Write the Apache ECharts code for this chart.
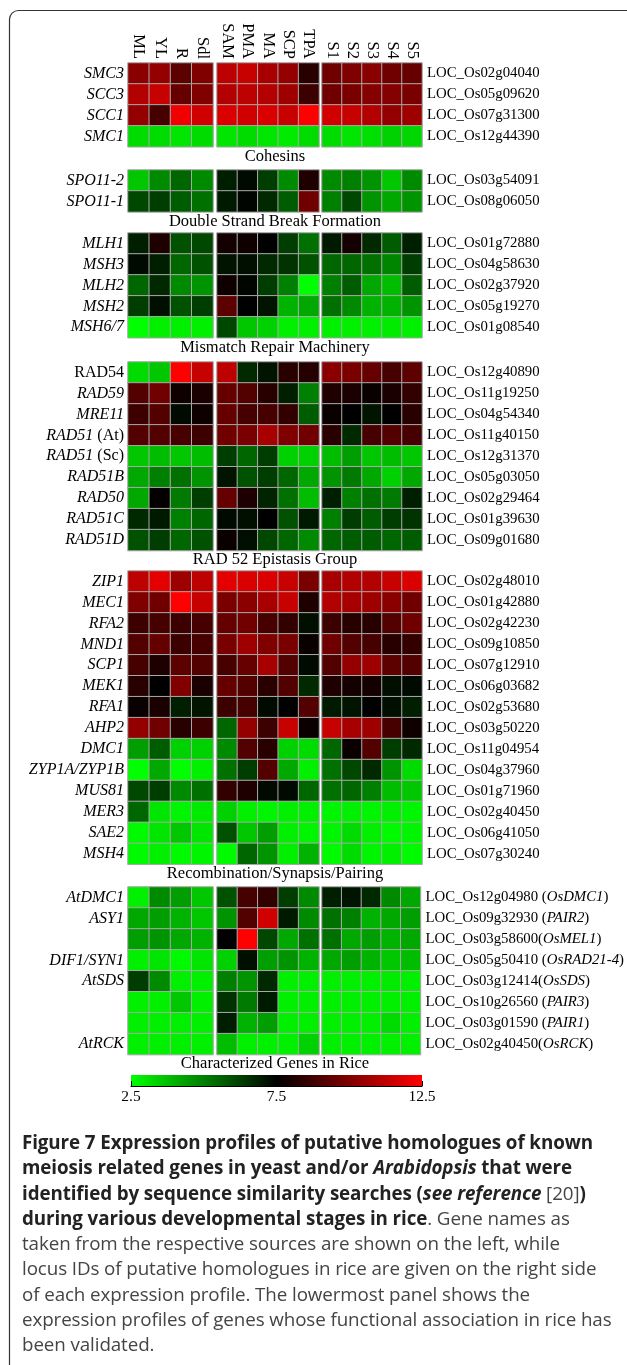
<!DOCTYPE html>
<html>
<head>
<meta charset="utf-8">
<script src="https://cdn.jsdelivr.net/npm/echarts@6/dist/echarts.min.js"></script>
<style>
body{margin:0;background:#fff;}
#chart{width:627px;height:1365px;position:absolute;left:0;top:0;}
#cap{position:absolute;left:22px;top:1130px;width:600px;font-family:"Open Sans",sans-serif;font-size:18.8px;line-height:25.3px;color:#444;letter-spacing:-0.1px;white-space:nowrap;}
#cap b{color:#222;}
</style>
</head>
<body>
<div id="chart"></div>
<div id="cap"><b>Figure 7 Expression profiles of putative homologues of known<br>meiosis related genes in yeast and/or <i>Arabidopsis</i> that were<br>identified by sequence similarity searches (<i>see reference</i></b> [20]<b>)</b><br><b>during various developmental stages in rice</b>. Gene names as<br>taken from the respective sources are shown on the left, while<br>locus IDs of putative homologues in rice are given on the right side<br>of each expression profile. The lowermost panel shows the<br>expression profiles of genes whose functional association in rice has<br>been validated.</div>
<script>
var stages1 = ['ML','YL','R','Sdl'];
var stages2 = ['SAM','PMA','MA','SCP','TPA'];
var stages3 = ['S1','S2','S3','S4','S5'];
var colorTicks = [2.5, 7.5, 12.5];

// Cohesins
var cohGenes = ['SMC3','SCC3','SCC1','SMC1'];
var cohLoci = ['LOC_Os02g04040','LOC_Os05g09620','LOC_Os07g31300','LOC_Os12g44390'];
var cohValues = [
  [10.2,10.4,9.3,10.0, 11.2,11.4,10.8,10.4,8.3, 9.7,10.0,10.2,9.7,9.5],
  [11.0,11.4,9.5,10.0, 11.0,11.2,11.0,10.6,8.7, 9.7,9.9,10.1,10.1,9.9],
  [10.4,8.9,12.2,11.6, 11.8,11.6,11.8,11.4,12.5, 11.6,11.4,11.0,10.4,10.6],
  [3.2,3.2,3.0,3.2, 3.0,3.2,3.0,2.9,3.2, 3.2,3.0,3.1,3.4,3.3]
];
// Double strand break formation
var dsbGenes = ['SPO11-2','SPO11-1'];
var dsbLoci = ['LOC_Os03g54091','LOC_Os08g06050'];
var dsbValues = [
  [3.6,4.8,5.5,4.8, 6.9,7.3,6.3,4.8,8.1, 4.8,5.0,4.6,3.6,4.8],
  [6.1,6.3,5.7,5.3, 7.0,7.4,6.7,5.7,9.7, 5.0,6.1,4.6,4.2,4.6]
];
// Mismatch repair
var mmrGenes = ['MLH1','MSH3','MLH2','MSH2','MSH6/7'];
var mmrLoci = ['LOC_Os01g72880','LOC_Os04g58630','LOC_Os02g37920','LOC_Os05g19270','LOC_Os01g08540'];
var mmrValues = [
  [6.9,8.1,5.9,6.1, 7.9,7.8,7.5,6.3,5.3, 7.0,7.9,6.7,5.7,6.9],
  [7.3,6.9,5.5,5.9, 7.1,7.2,6.7,6.5,5.9, 5.5,5.5,5.3,4.9,6.3],
  [5.5,6.7,4.8,4.6, 7.8,7.4,6.3,5.0,2.5, 5.0,5.7,4.2,3.8,5.7],
  [6.3,7.2,5.9,6.3, 9.3,7.5,7.1,4.0,4.2, 5.3,4.8,4.0,4.0,4.6],
  [2.5,2.8,2.8,2.8, 6.1,3.6,3.4,2.8,2.8, 2.8,2.8,2.8,2.9,2.8]
];
// RAD 52 epistasis group
var radGenes = ['RAD54','RAD59','MRE11','RAD51 (At)','RAD51 (Sc)','RAD51B','RAD50','RAD51C','RAD51D'];
var radLoci = ['LOC_Os12g40890','LOC_Os11g19250','LOC_Os04g54340','LOC_Os11g40150','LOC_Os12g31370','LOC_Os05g03050','LOC_Os02g29464','LOC_Os01g39630','LOC_Os09g01680'];
var radValues = [
  [3.2,3.6,12.5,11.4, 11.2,6.7,7.1,8.3,8.2, 10.2,9.9,9.5,8.9,9.3],
  [9.1,9.7,7.8,8.0, 9.5,9.1,8.3,6.9,5.0, 8.1,8.0,7.7,8.0,8.5],
  [8.7,9.1,7.3,7.8, 9.5,8.9,8.9,8.5,5.7, 7.7,7.5,7.1,7.5,8.3],
  [9.1,9.1,8.9,8.7, 9.7,9.9,10.8,10.0,9.7, 8.3,6.7,8.9,9.1,8.9],
  [3.6,3.8,3.6,3.8, 6.3,5.5,6.3,3.4,3.4, 3.8,4.4,3.6,3.8,3.6],
  [4.2,5.0,5.3,4.6, 7.1,5.9,6.3,5.5,4.2, 4.6,5.1,4.2,3.4,4.2],
  [4.2,7.6,5.1,6.3, 9.5,8.1,6.8,5.3,3.8, 6.9,5.0,5.3,5.1,6.9],
  [6.7,7.0,5.0,5.5, 7.3,7.2,7.5,5.9,7.0, 5.0,6.3,5.7,6.3,6.5],
  [5.9,6.3,5.5,5.9, 7.7,7.2,6.1,5.5,4.8, 5.5,5.7,5.7,5.5,5.7]
];
// Recombination / synapsis / pairing
var recGenes = ['ZIP1','MEC1','RFA2','MND1','SCP1','MEK1','RFA1','AHP2','DMC1','ZYP1A/ZYP1B','MUS81','MER3','SAE2','MSH4'];
var recLoci = ['LOC_Os02g48010','LOC_Os01g42880','LOC_Os02g42230','LOC_Os09g10850','LOC_Os07g12910','LOC_Os06g03682','LOC_Os02g53680','LOC_Os03g50220','LOC_Os11g04954','LOC_Os04g37960','LOC_Os01g71960','LOC_Os02g40450','LOC_Os06g41050','LOC_Os07g30240'];
var recValues = [
  [11.2,12.0,10.6,11.2, 12.0,11.8,11.8,11.4,9.9, 10.8,11.0,11.0,11.4,11.8],
  [10.0,9.7,12.5,11.4, 9.9,10.2,10.8,11.4,8.1, 11.0,10.8,10.6,10.2,9.7],
  [8.7,8.9,8.7,8.9, 9.5,9.7,8.9,8.5,7.2, 8.7,8.3,8.3,9.1,9.7],
  [9.1,9.5,8.7,8.9, 9.9,10.6,10.0,9.9,7.7, 9.7,9.1,8.9,8.3,8.5],
  [8.9,8.1,9.3,9.1, 8.9,9.5,10.8,9.1,7.3, 9.1,10.4,10.6,9.3,9.1],
  [8.3,7.5,10.0,8.0, 9.5,9.1,8.3,9.1,6.7, 8.1,7.9,7.9,7.2,7.3],
  [7.7,8.0,6.9,7.1, 8.7,8.9,7.3,7.5,9.1, 7.0,7.1,7.5,7.2,6.9],
  [10.4,9.7,8.3,8.7, 5.5,10.4,8.7,11.4,7.7, 11.4,10.8,10.6,8.9,7.8],
  [4.4,5.7,3.4,3.4, 4.8,9.1,8.3,3.4,3.2, 5.5,7.7,9.1,6.3,6.7],
  [2.5,4.2,2.5,2.8, 5.3,6.3,9.1,4.2,2.8, 5.3,6.1,6.7,4.6,3.2],
  [6.1,6.3,4.8,5.3, 8.5,8.1,7.3,7.3,5.5, 5.3,5.5,5.0,3.8,3.6],
  [5.5,3.0,2.7,2.9, 3.4,2.8,2.7,2.8,2.8, 2.7,2.8,2.7,2.8,2.7],
  [2.6,3.0,3.6,3.0, 5.9,3.6,4.4,2.8,2.7, 2.7,3.2,2.8,2.6,2.7],
  [2.6,2.8,2.6,2.7, 2.6,5.5,4.6,2.8,4.0, 2.6,3.2,2.7,2.8,2.6]
];
// Characterized genes in rice
var riceGenes = ['AtDMC1','ASY1','','DIF1/SYN1','AtSDS','','','AtRCK'];
var riceLoci = ['LOC_Os12g04980 (OsDMC1)','LOC_Os09g32930 (PAIR2)','LOC_Os03g58600(OsMEL1)','LOC_Os05g50410 (OsRAD21-4)','LOC_Os03g12414(OsSDS)','LOC_Os10g26560 (PAIR3)','LOC_Os03g01590 (PAIR1)','LOC_Os02g40450(OsRCK)'];
var riceValues = [
  [2.8,4.8,4.4,3.6, 5.9,8.9,8.5,6.3,4.8, 6.9,7.1,6.7,4.8,4.2],
  [4.2,4.4,4.0,3.6, 4.6,9.1,11.6,7.0,4.8, 5.3,5.0,4.0,4.2,4.4],
  [4.4,4.6,4.2,4.0, 7.5,12.5,6.1,4.2,5.3, 5.3,4.2,4.4,4.0,4.2],
  [2.8,3.0,2.6,3.0, 3.4,7.2,4.4,4.6,4.0, 4.2,4.4,4.0,3.6,3.8],
  [6.3,4.8,2.8,2.8, 5.0,4.6,6.7,2.8,2.8, 2.8,2.8,2.8,2.9,2.8],
  [2.8,2.8,3.6,2.8, 6.5,5.1,7.0,2.8,2.8, 2.8,2.8,2.8,2.8,2.8],
  [2.8,2.8,2.8,2.8, 6.9,4.0,4.4,2.8,2.8, 2.8,2.8,2.8,3.2,2.8],
  [2.8,2.8,2.8,2.8, 3.8,2.8,2.8,2.8,3.4, 2.8,2.8,2.8,2.8,2.8]
];

var panels = [
  {title:'Cohesins', genes:cohGenes, loci:cohLoci, values:cohValues, top:63},
  {title:'Double Strand Break Formation', genes:dsbGenes, loci:dsbLoci, values:dsbValues, top:170},
  {title:'Mismatch Repair Machinery', genes:mmrGenes, loci:mmrLoci, values:mmrValues, top:233},
  {title:'RAD 52 Epistasis Group', genes:radGenes, loci:radLoci, values:radValues, top:362},
  {title:'Recombination/Synapsis/Pairing', genes:recGenes, loci:recLoci, values:recValues, top:571},
  {title:'Characterized Genes in Rice', genes:riceGenes, loci:riceLoci, values:riceValues, top:887}
];
var rowH = 20.95;
var groups = [
  {cats:stages1, left:128, width:85, from:0},
  {cats:stages2, left:217, width:102, from:4},
  {cats:stages3, left:322, width:100, from:9}
];
var FONT = '"Liberation Serif", "DejaVu Serif", serif';

function leftLabel(s){
  if (s === 'RAD54') return '{n|RAD54}';
  var k = s.indexOf(' (');
  if (k > 0) return '{i|' + s.slice(0,k) + '}{n|' + s.slice(k) + '}';
  return '{i|' + s + '}';
}
function rightLabel(s){
  var k = s.indexOf('(');
  if (k > 0) return '{n|' + s.slice(0,k) + '(}{i|' + s.slice(k+1, s.length-1) + '}{n|)}';
  return '{n|' + s + '}';
}
var rich = {
  i:{fontFamily:FONT, fontStyle:'italic', fontSize:16, color:'#000'},
  n:{fontFamily:FONT, fontSize:16, color:'#000'}
};
var richR = {
  i:{fontFamily:FONT, fontStyle:'italic', fontSize:14.8, color:'#000'},
  n:{fontFamily:FONT, fontSize:14.8, color:'#000'}
};

var grids = [], xAxes = [], yAxes = [], series = [], graphics = [];
panels.forEach(function(p, pi){
  var h = rowH * p.genes.length;
  groups.forEach(function(g, gi){
    var idx = grids.length;
    grids.push({left:g.left, top:p.top, width:g.width, height:h});
    xAxes.push({type:'category', gridIndex:idx, data:g.cats, position:'top',
      axisLine:{show:false}, axisTick:{show:false}, splitLine:{show:false},
      axisLabel:{show:pi === 0, interval:0, hideOverlap:false, rotate:90, margin:4, fontFamily:FONT, fontSize:16.5, color:'#000'}});
    var yconf = {type:'category', gridIndex:idx, data:p.genes, inverse:true,
      axisLine:{show:false}, axisTick:{show:false}, splitLine:{show:false}, axisLabel:{show:false}};
    if (gi === 0) {
      yconf.axisLabel = {show:true, interval:0, margin:4, formatter:function(v){ return v ? leftLabel(v) : ''; }, rich:rich};
    }
    yAxes.push(yconf);
    if (gi === 2) {
      // second y axis on the right for locus IDs
      yAxes.push({type:'category', gridIndex:idx, data:p.loci, inverse:true, position:'right',
        axisLine:{show:false}, axisTick:{show:false}, splitLine:{show:false},
        axisLabel:{show:true, interval:0, margin:5, formatter:function(v){ return rightLabel(v); }, rich:richR}});
    }
    var data = [];
    p.values.forEach(function(row, r){
      g.cats.forEach(function(c, ci){ data.push([ci, r, row[g.from + ci]]); });
    });
    series.push({type:'heatmap', xAxisIndex:idx, yAxisIndex:yAxes.length - (gi === 2 ? 2 : 1), data:data,
      itemStyle:{borderColor:'#a8a8a8', borderWidth:1}, emphasis:{disabled:true}});
  });
  graphics.push({style:{text:p.title, x:275, y:p.top + h + 1, textAlign:'center', fontFamily:FONT, fontSize:16.5, fill:'#000'}});
});

// colour bar axis
var cbIdx = grids.length;
grids.push({left:131, top:1075, width:291, height:11});
xAxes.push({type:'value', gridIndex:cbIdx, min:2.5, max:12.5, interval:5, position:'bottom',
  axisLine:{show:true, lineStyle:{color:'#000', width:1}, onZero:false},
  axisTick:{show:true, inside:true, length:5, lineStyle:{color:'#000'}},
  splitLine:{show:false},
  axisLabel:{margin:3, fontFamily:FONT, fontSize:15.5, color:'#000', formatter:function(v){ return colorTicks.indexOf(v) >= 0 ? v.toFixed(1) : ''; }}});
yAxes.push({type:'value', gridIndex:cbIdx, show:false});

var gfx = [
  {type:'rect', shape:{x:9.5, y:10.5, width:640, height:1400, r:9}, style:{fill:'none', stroke:'#333', lineWidth:1.2}, silent:true},
  {type:'rect', shape:{x:131, y:1075, width:291, height:11}, silent:true,
    style:{fill:new echarts.graphic.LinearGradient(0,0,1,0,[{offset:0,color:'#00ff00'},{offset:0.5,color:'#000000'},{offset:1,color:'#ff0000'}])}}
];
graphics.forEach(function(t){ gfx.push({type:'text', silent:true, style:t.style}); });

var chart = echarts.init(document.getElementById('chart'));
chart.setOption({
  animation:false,
  backgroundColor:'#fff',
  grid:grids, xAxis:xAxes, yAxis:yAxes, series:series,
  visualMap:{show:false, min:2.5, max:12.5, seriesIndex:series.map(function(s,i){return i;}),
    inRange:{color:['#00ff00','#000000','#ff0000']}},
  graphic:gfx
});
</script>
</body>
</html>
